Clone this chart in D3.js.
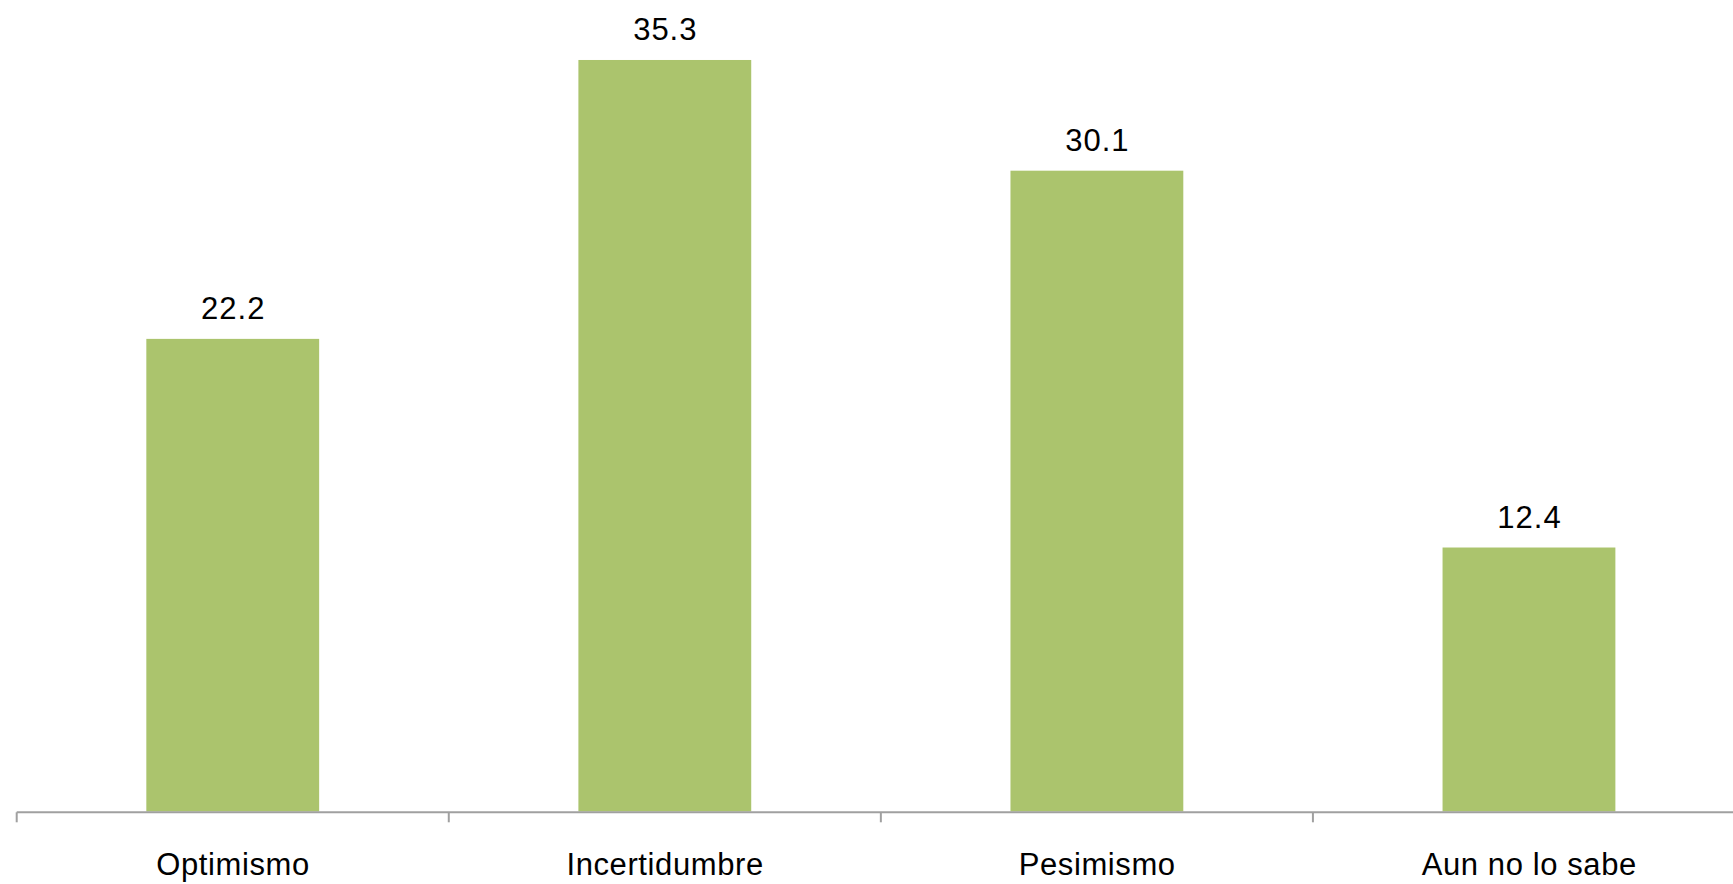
<!DOCTYPE html>
<html>
<head>
<meta charset="utf-8">
<script src="https://cdn.jsdelivr.net/npm/d3@7"></script>
<style>
  html, body { margin: 0; padding: 0; background: #ffffff; }
  svg { display: block; }
  text { font-family: "Liberation Sans", Arial, Helvetica, sans-serif; fill: #000; }
</style>
</head>
<body>
<script>
const categories = ["Optimismo", "Incertidumbre", "Pesimismo", "Aun no lo sabe"];
const values = [22.2, 35.3, 30.1, 12.4];
const labels = ["22.2", "35.3", "30.1", "12.4"];

const W = 1733, H = 884;
const svg = d3.select("body").append("svg").attr("width", W).attr("height", H);

const x = d3.scaleBand()
  .domain(categories)
  .range([16.7, 1745])
  .paddingInner(0.6)
  .paddingOuter(0.3);

const y = d3.scaleLinear().domain([0, 38]).range([811.5, 2.5]);

svg.selectAll("rect.bar")
  .data(values)
  .join("rect")
  .attr("class", "bar")
  .attr("x", (d, i) => x(categories[i]))
  .attr("width", x.bandwidth())
  .attr("y", d => y(d))
  .attr("height", d => y(0) - y(d))
  .attr("fill", "#abc46d");

svg.selectAll("text.val")
  .data(values)
  .join("text")
  .attr("class", "val")
  .attr("x", (d, i) => x(categories[i]) + x.bandwidth() / 2 + 0.5)
  .attr("y", d => y(d) - 20)
  .attr("text-anchor", "middle")
  .style("font-size", "31px")
  .style("letter-spacing", "1px")
  .text((d, i) => labels[i]);

// category axis: line with ticks at band boundaries
const axisY = 812.3;
const step = x.step();
const start = x.range()[0];
const boundaries = d3.range(categories.length + 1).map(i => start + i * step);

svg.append("line")
  .attr("x1", start).attr("x2", W)
  .attr("y1", axisY).attr("y2", axisY)
  .attr("stroke", "#a0a0a0").attr("stroke-width", 2);

svg.selectAll("line.tick")
  .data(boundaries)
  .join("line")
  .attr("class", "tick")
  .attr("x1", d => d).attr("x2", d => d)
  .attr("y1", axisY).attr("y2", axisY + 10)
  .attr("stroke", "#a0a0a0").attr("stroke-width", 2);

svg.selectAll("text.cat")
  .data(categories)
  .join("text")
  .attr("class", "cat")
  .attr("x", d => x(d) + x.bandwidth() / 2 + 0.3)
  .attr("y", 875)
  .attr("text-anchor", "middle")
  .style("font-size", "31px")
  .style("letter-spacing", "0.6px")
  .text(d => d);
</script>
</body>
</html>
